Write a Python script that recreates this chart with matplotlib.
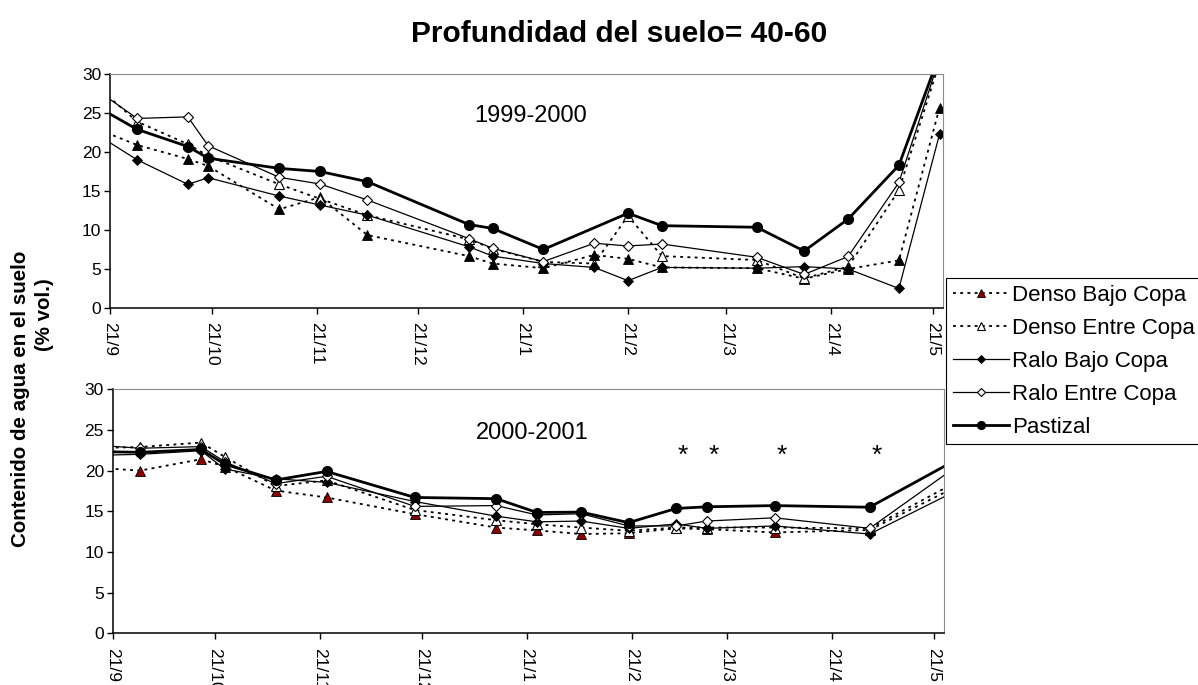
import datetime
import matplotlib
matplotlib.use("Agg")
import matplotlib.pyplot as plt

plt.rcParams['font.family'] = ['Liberation Sans', 'DejaVu Sans']

# ---- 1999-2000 season (first date lies before the axis start) ----
dates_9900 = ["1999-09-14", "1999-09-29", "1999-10-14", "1999-10-20", "1999-11-10",
              "1999-11-22", "1999-12-06", "2000-01-05", "2000-01-12", "2000-01-27",
              "2000-02-11", "2000-02-21", "2000-03-02", "2000-03-30", "2000-04-13",
              "2000-04-26", "2000-05-11", "2000-05-23"]
denso_bajo_9900 = [23.5, 20.9, 19.1, 18.2, 12.65, 14.2, 9.35, 6.65, 5.7, 5.1,
                   6.8, 6.3, 5.2, 5.1, 3.75, 5.0, 6.1, 25.7]
denso_entre_9900 = [29.6, 23.9, 21.0, 19.5, 15.85, 14.0, 11.9, 8.8, 7.6, 5.9,
                    5.7, 11.8, 6.65, 6.15, 3.8, 5.3, 15.1, 31.5]
ralo_bajo_9900 = [23.1, 19.0, 15.85, 16.7, 14.35, 13.2, 11.9, 7.85, 6.65, 5.7,
                  5.2, 3.5, 5.2, 5.1, 5.3, 5.0, 2.5, 22.3]
ralo_entre_9900 = [28.9, 24.3, 24.5, 20.8, 16.75, 15.9, 13.85, 8.9, 7.65, 5.95,
                   8.3, 7.95, 8.2, 6.5, 4.3, 6.6, 16.1, 32.0]
# pastizal was not sampled on 2000-02-11
pastizal_dates_9900 = ["1999-09-14", "1999-09-29", "1999-10-14", "1999-10-20", "1999-11-10",
                       "1999-11-22", "1999-12-06", "2000-01-05", "2000-01-12", "2000-01-27",
                       "2000-02-21", "2000-03-02", "2000-03-30", "2000-04-13",
                       "2000-04-26", "2000-05-11", "2000-05-23"]
pastizal_9900 = [26.6, 22.9, 20.7, 19.2, 17.9, 17.5, 16.2, 10.7, 10.2, 7.5,
                 12.15, 10.55, 10.35, 7.3, 11.4, 18.3, 32.5]

# ---- 2000-2001 season (first and last dates lie outside the axis) ----
dates_0001 = ["2000-09-07", "2000-09-29", "2000-10-17", "2000-10-24", "2000-11-08",
              "2000-11-23", "2000-12-19", "2001-01-12", "2001-01-24", "2001-02-06",
              "2001-02-20", "2001-03-06", "2001-03-15", "2001-04-04", "2001-05-02",
              "2001-06-06"]
denso_bajo_0001 = [20.6, 20.0, 21.4, 20.5, 17.55, 16.7, 14.65, 13.0, 12.65, 12.2,
                   12.3, 12.9, 12.8, 12.4, 12.7, 20.0]
denso_entre_0001 = [22.7, 22.9, 23.45, 21.7, 18.1, 18.8, 15.15, 13.9, 13.4, 13.0,
                    12.6, 13.0, 13.0, 13.0, 12.9, 20.7]
ralo_bajo_0001 = [21.8, 22.0, 22.45, 20.2, 19.0, 18.55, 16.2, 14.4, 13.7, 13.8,
                  12.9, 13.45, 12.9, 13.2, 12.2, 19.5]
ralo_entre_0001 = [23.4, 22.75, 22.95, 21.1, 18.4, 19.3, 15.6, 15.7, 14.55, 14.7,
                   13.2, 13.2, 13.8, 14.2, 12.9, 23.3]
pastizal_0001 = [22.4, 22.25, 22.6, 20.8, 18.85, 19.9, 16.7, 16.55, 14.85, 14.9,
                 13.6, 15.35, 15.55, 15.7, 15.5, 23.5]
# dates flagged with an asterisk
signif_0001 = ["2001-03-06", "2001-03-15", "2001-04-04", "2001-05-02"]

names = ["Denso Bajo Copa", "Denso Entre Copa", "Ralo Bajo Copa", "Ralo Entre Copa", "Pastizal"]


def to_dates(strings):
    return [datetime.datetime.strptime(s, "%Y-%m-%d") for s in strings]


def styles(tri_color):
    dot = (0, (1.6, 2.4))
    return {
        "Denso Bajo Copa": dict(color="black", lw=1.3, ls=dot, marker="^", ms=7,
                                mfc=tri_color, mec="black", mew=0.6),
        "Denso Entre Copa": dict(color="black", lw=1.3, ls=dot, marker="^", ms=7,
                                 mfc="white", mec="black", mew=0.8),
        "Ralo Bajo Copa": dict(color="black", lw=0.9, ls="-", marker="D", ms=5.5,
                               mfc="black", mec="black", mew=0.6),
        "Ralo Entre Copa": dict(color="black", lw=0.9, ls="-", marker="D", ms=5.5,
                                mfc="white", mec="black", mew=0.8),
        "Pastizal": dict(color="black", lw=2.0, ls="-", marker="o", ms=7,
                         mfc="black", mec="black"),
    }


def plot_panel(ax, start_year, series, period, tri_color, right_days):
    st = styles(tri_color)
    for name in names:
        d, v = series[name]
        ax.plot(to_dates(d), v, label=name, **st[name])

    start = datetime.datetime(start_year, 9, 21)
    ax.set_xlim(start, start + datetime.timedelta(days=right_days))
    ax.set_ylim(0, 30)
    ax.set_yticks(range(0, 31, 5))

    ticks = [datetime.datetime(start_year + (m < 9), m, 21) for m in [9, 10, 11, 12, 1, 2, 3, 4, 5]]
    ax.set_xticks(ticks)
    ax.set_xticklabels([f"{t.day}/{t.month}" for t in ticks], rotation=270,
                       ha="center", va="top")
    ax.tick_params(direction="out", length=4.3, width=1, labelsize=12.5)
    ax.tick_params(axis="x", pad=6)
    ax.tick_params(axis="y", pad=2)

    ax.spines["top"].set_color("#8c8c8c")
    ax.spines["right"].set_color("#8c8c8c")
    ax.spines["left"].set_linewidth(1.1)
    ax.spines["bottom"].set_linewidth(1.1)
    ax.text(0.505, 0.82, period, transform=ax.transAxes, fontsize=17,
            ha="center", va="center")


fig = plt.figure(figsize=(11.98, 6.85), dpi=100)
ax1 = fig.add_axes([0.0918, 0.5504, 0.6953, 0.3416])
ax2 = fig.add_axes([0.0941, 0.0755, 0.6941, 0.3562])

top = {
    "Denso Bajo Copa": (dates_9900, denso_bajo_9900),
    "Denso Entre Copa": (dates_9900, denso_entre_9900),
    "Ralo Bajo Copa": (dates_9900, ralo_bajo_9900),
    "Ralo Entre Copa": (dates_9900, ralo_entre_9900),
    "Pastizal": (pastizal_dates_9900, pastizal_9900),
}
bottom = {
    "Denso Bajo Copa": (dates_0001, denso_bajo_0001),
    "Denso Entre Copa": (dates_0001, denso_entre_0001),
    "Ralo Bajo Copa": (dates_0001, ralo_bajo_0001),
    "Ralo Entre Copa": (dates_0001, ralo_entre_0001),
    "Pastizal": (dates_0001, pastizal_0001),
}
plot_panel(ax1, 1999, top, "1999-2000", "black", 246)
plot_panel(ax2, 2000, bottom, "2000-2001", "#8b0000", 245)

for d in to_dates(signif_0001):
    ax2.annotate("*", (d, 21.8), xytext=(5, 0), textcoords="offset points",
                 fontsize=19, ha="center", va="center")

fig.text(0.517, 0.950, "Profundidad del suelo= 40-60", fontsize=21.5,
         fontweight="bold", ha="center", va="center")
fig.text(0.0175, 0.4175, "Contenido de agua en el suelo", fontsize=14.8,
         fontweight="bold", rotation=90, ha="center", va="center")
fig.text(0.037, 0.54, "(% vol.)", fontsize=14.8, fontweight="bold",
         rotation=90, ha="center", va="center")

handles, labels = ax2.get_legend_handles_labels()
leg = fig.legend(handles, labels, loc="upper left", bbox_to_anchor=(0.790, 0.594),
                 borderaxespad=0, fontsize=16, handlelength=2.5, handletextpad=0.15,
                 labelspacing=0.54, borderpad=0.3, fancybox=False, framealpha=1,
                 edgecolor="black", markerscale=0.8)
leg.get_frame().set_linewidth(0.8)

fig.savefig("out.png", dpi=100)
